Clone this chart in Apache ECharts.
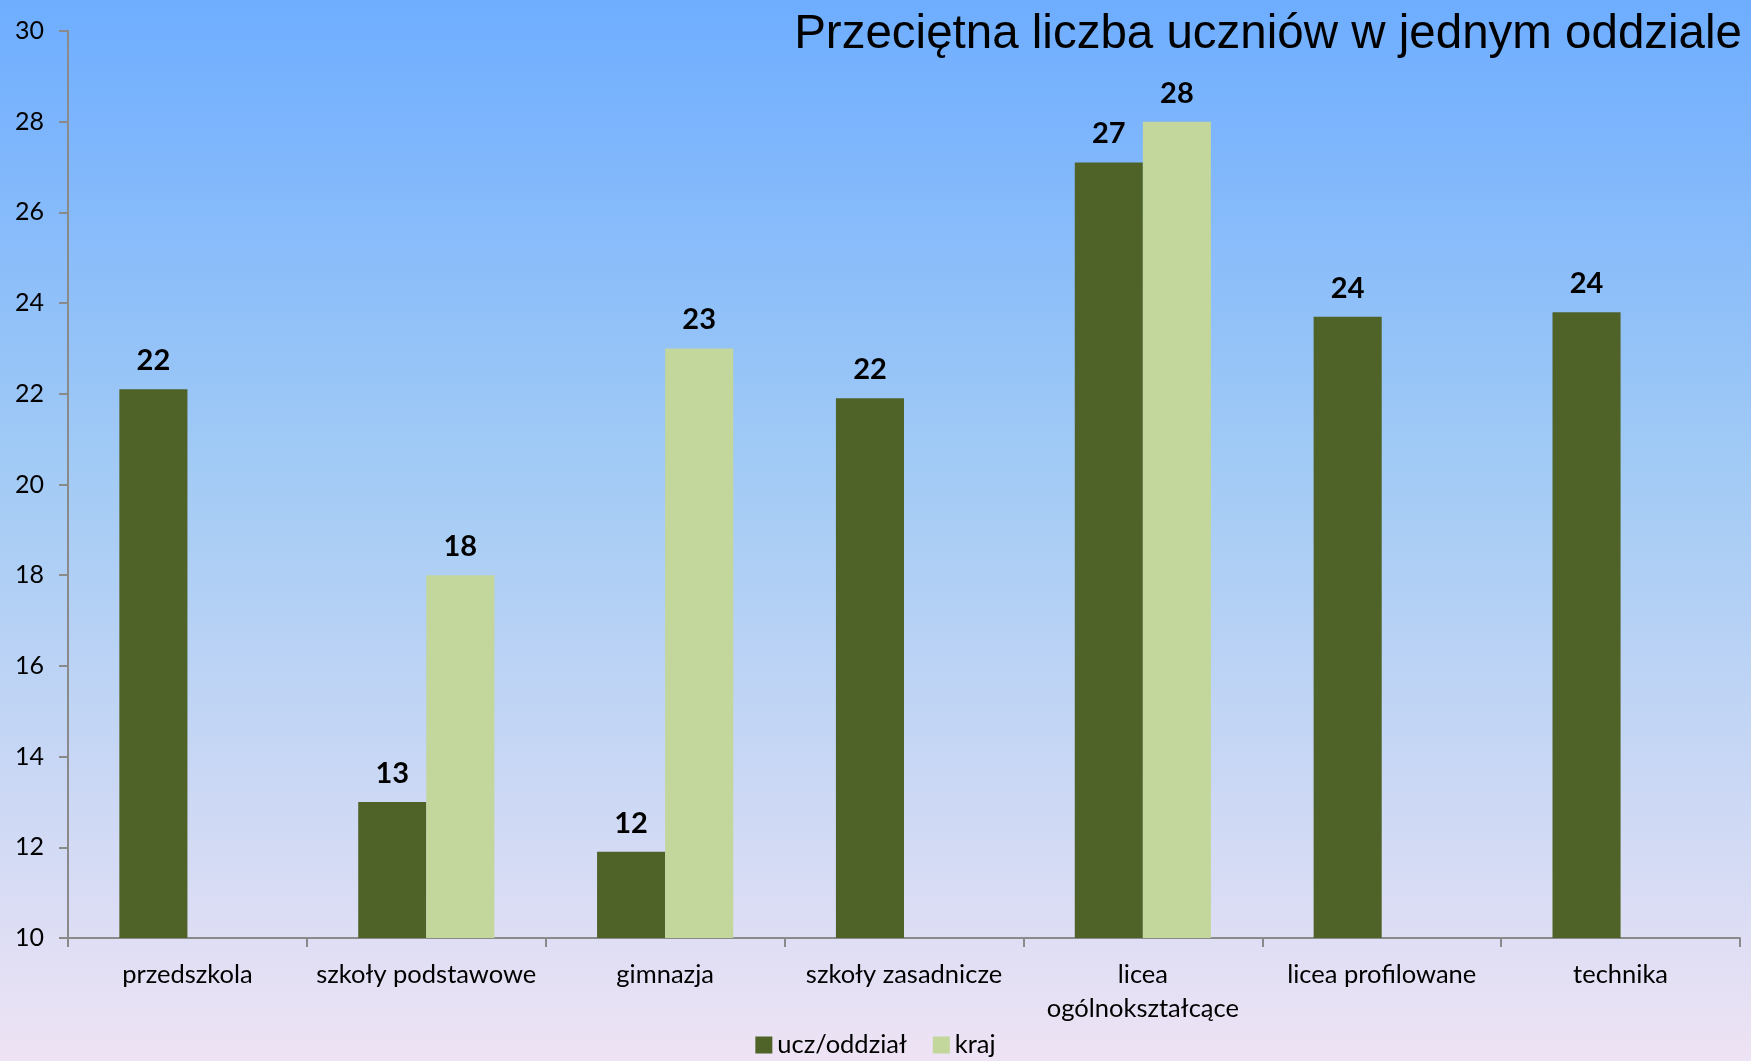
<!DOCTYPE html>
<html>
<head>
<meta charset="utf-8">
<script src="https://cdn.jsdelivr.net/npm/echarts@6/dist/echarts.min.js"></script>
<style>
html, body { margin: 0; padding: 0; }
#main { width: 1751px; height: 1061px; }
</style>
</head>
<body>
<div id="main"></div>
<script>
// dane
var categories = ['przedszkola', 'szkoły podstawowe', 'gimnazja', 'szkoły zasadnicze', 'licea\nogólnokształcące', 'licea profilowane', 'technika'];
var uczOddzial = [22.1, 13.0, 11.9, 21.9, 27.1, 23.7, 23.8];
var kraj = [null, 18.0, 23.0, null, 28.0, null, null];
var yTicks = [10, 12, 14, 16, 18, 20, 22, 24, 26, 28, 30];

var chart = echarts.init(document.getElementById('main'));

var labelStyle = {
	show: true,
	position: 'top',
	distance: 14,
	fontFamily: 'Lato',
	fontWeight: 'bold',
	fontSize: 29,
	color: '#000',
	formatter: function (p) { return Math.round(p.value); }
};

chart.setOption({
	backgroundColor: {
		type: 'linear', x: 0, y: 0, x2: 0, y2: 1,
		colorStops: [
			{ offset: 0, color: '#6eadff' },
			{ offset: 0.45, color: '#a3cbf5' },
			{ offset: 1, color: '#eee3f4' }
		]
	},
	title: {
		text: 'Przeciętna liczba uczniów w jednym oddziale',
		right: 4,
		top: 6,
		textStyle: { fontFamily: 'Liberation Sans', fontWeight: 'normal', fontSize: 47.5, color: '#000' }
	},
	legend: {
		bottom: -2,
		left: 'center',
		itemWidth: 17,
		itemHeight: 17,
		itemGap: 26,
		icon: 'rect',
		textStyle: { fontFamily: 'Lato', fontSize: 25.5, color: '#000' },
		data: ['ucz/oddział', 'kraj']
	},
	grid: { left: 68, right: 11, top: 31, bottom: 123, containLabel: false },
	xAxis: {
		type: 'category',
		data: categories,
		axisLine: { lineStyle: { color: '#8a8a8a', width: 2 } },
		axisTick: { show: true, length: 9, lineStyle: { color: '#8a8a8a', width: 2 } },
		axisLabel: { fontFamily: 'Lato', fontSize: 25.5, color: '#000', margin: 20, lineHeight: 34, interval: 0 }
	},
	yAxis: {
		type: 'value',
		min: yTicks[0],
		max: yTicks[yTicks.length - 1],
		interval: 2,
		splitLine: { show: false },
		axisLine: { show: true, lineStyle: { color: '#8a8a8a', width: 2 } },
		axisTick: { show: true, length: 9, lineStyle: { color: '#8a8a8a', width: 2 } },
		axisLabel: { fontFamily: 'Lato', fontSize: 25, color: '#000', margin: 24 }
	},
	series: [
		{
			name: 'ucz/oddział',
			type: 'bar',
			data: uczOddzial,
			barWidth: '28.5%',
			barGap: '0%',
			itemStyle: { color: '#4f6228' },
			label: labelStyle
		},
		{
			name: 'kraj',
			type: 'bar',
			data: kraj,
			barWidth: '28.5%',
			itemStyle: { color: '#c3d69b' },
			label: labelStyle
		}
	]
});
</script>
</body>
</html>
